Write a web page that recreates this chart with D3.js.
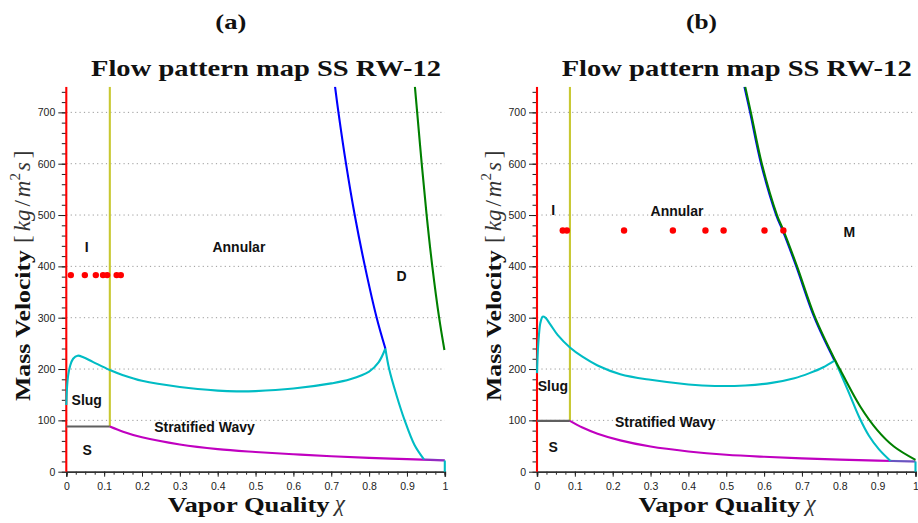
<!DOCTYPE html>
<html>
<head>
<meta charset="utf-8">
<script src="https://cdn.jsdelivr.net/npm/d3@7/dist/d3.min.js"></script>
<style>
  body { margin: 0; background: #fff; }
</style>
</head>
<body>
<svg id="chart" width="918" height="523"></svg>
<script>
// ---- axis ticks ----
const xTickValues = [0, 0.1, 0.2, 0.3, 0.4, 0.5, 0.6, 0.7, 0.8, 0.9, 1];
const xTickLabels = ["0", "0.1", "0.2", "0.3", "0.4", "0.5", "0.6", "0.7", "0.8", "0.9", "1"];
const yTickValues = [0, 100, 200, 300, 400, 500, 600, 700];
const yTickLabels = ["0", "100", "200", "300", "400", "500", "600", "700"];

const panelTags = ["(a)", "(b)"];
const chartTitle = "Flow pattern map SS RW-12";

// ---- map (a): transition curves [vapor quality, mass velocity] ----
const intermittentA = 0.115;          // I / A boundary (vertical)
const stratifiedA = 88;               // S / SW boundary level below x_IA
const wavyA = [[0, 130], [0.002, 165], [0.005, 188], [0.01, 206], [0.018, 220], [0.03, 226],
  [0.045, 223], [0.07, 214], [0.115, 198], [0.15, 188], [0.2, 177], [0.3, 165], [0.4, 158],
  [0.45, 156.5], [0.5, 157], [0.6, 162], [0.7, 172], [0.75, 180], [0.8, 195], [0.825, 213], [0.843, 240]];
const wavyDropA = [[0.843, 240], [0.853, 200], [0.872, 150], [0.894, 100], [0.92, 52], [0.945, 24]];
const dryoutA = [[0.710, 750], [0.719, 700], [0.739, 600], [0.762, 500], [0.789, 400], [0.820, 300], [0.843, 240]];
const mistA = [[0.921, 750], [0.927, 700], [0.939, 600], [0.952, 500], [0.967, 400], [0.985, 300], [0.999, 237]];
const stratCurveA = [[0.115, 88], [0.15, 78], [0.2, 67], [0.3, 53], [0.4, 44], [0.5, 38.5], [0.6, 34],
  [0.7, 30], [0.8, 27], [0.9, 24.5], [1, 22]];
const testQualityA = [0.012, 0.049, 0.078, 0.097, 0.108, 0.133, 0.144];
const testFluxA = 383;
const regionsA = [["I", 0.054, 438], ["Annular", 0.456, 438], ["D", 0.886, 381],
  ["Slug", 0.054, 140], ["Stratified Wavy", 0.365, 86.5], ["S", 0.055, 42]];

// ---- map (b) ----
const intermittentB = 0.087;
const stratifiedB = 99;
const wavyB = [[0, 192], [0.002, 232], [0.005, 265], [0.009, 290], [0.015, 302], [0.022, 300],
  [0.035, 287], [0.055, 266], [0.087, 242], [0.12, 224], [0.16, 207], [0.22, 190], [0.3, 179],
  [0.4, 170], [0.47, 167], [0.55, 168], [0.62, 173], [0.68, 182], [0.72, 192], [0.755, 203], [0.787, 217]];
const wavyDropB = [[0.787, 217], [0.80, 195], [0.825, 152], [0.852, 105], [0.877, 70], [0.903, 44], [0.934, 21]];
const dryoutB = [[0.548, 750], [0.563, 700], [0.592, 600], [0.632, 500], [0.649, 470], [0.685, 400], [0.733, 300], [0.785, 218]];
const mistB = [[0.55, 750], [0.565, 700], [0.594, 600], [0.634, 500], [0.651, 470], [0.687, 400],
  [0.735, 300], [0.787, 218], [0.80, 200], [0.854, 127], [0.899, 81], [0.943, 49], [1, 23]];
const stratCurveB = [[0.087, 99], [0.12, 86], [0.16, 74], [0.22, 61], [0.3, 49], [0.4, 39.5], [0.5, 33],
  [0.6, 29], [0.7, 26], [0.8, 23.5], [0.9, 21.5], [1, 20]];
const testQualityB = [0.068, 0.079, 0.230, 0.359, 0.445, 0.493, 0.601, 0.651];
const testFluxB = 470;
const regionsB = [["I", 0.043, 510], ["Annular", 0.370, 508], ["M", 0.825, 468],
  ["Slug", 0.042, 167], ["Stratified Wavy", 0.339, 96], ["S", 0.043, 49]];

const panels = [
  { tag: panelTags[0], left: 66.3, xIA: intermittentA, gStrat: stratifiedA, wavy: wavyA, drop: wavyDropA,
    dryout: dryoutA, mist: mistA, strat: stratCurveA, qx: testQualityA, qg: testFluxA, regions: regionsA, blend: false },
  { tag: panelTags[1], left: 537, xIA: intermittentB, gStrat: stratifiedB, wavy: wavyB, drop: wavyDropB,
    dryout: dryoutB, mist: mistB, strat: stratCurveB, qx: testQualityB, qg: testFluxB, regions: regionsB, blend: true }
];

const COLORS = { red: "#ff0000", yellow: "#c8c832", gray: "#5f5f5f", magenta: "#c000c0",
  cyan: "#00bcc4", blue: "#0000ff", green: "#008000" };

const SERIF = "'Liberation Serif', 'DejaVu Serif', serif";
const SANS = "'Liberation Sans', Arial, sans-serif";

const svg = d3.select("#chart");
const plotW = 378.5;
const y = d3.scaleLinear().domain([0, 750]).range([471.7, 86.7]);

panels.forEach((p, i) => {
  const x = d3.scaleLinear().domain([0, 1]).range([p.left, p.left + plotW]);
  const g = svg.append("g");
  const line = d3.line().x(d => x(d[0])).y(d => y(d[1])).curve(d3.curveCatmullRom.alpha(0.5));

  const clipId = "clip" + i;
  svg.append("clipPath").attr("id", clipId).append("rect")
    .attr("x", x(0) - 3).attr("y", y(750)).attr("width", plotW + 6).attr("height", y(0) - y(750) + 3);

  // horizontal dotted grid
  g.append("g").selectAll("line").data(yTickValues.filter(v => v > 0)).join("line")
    .attr("x1", x(0)).attr("x2", x(1)).attr("y1", d => y(d)).attr("y2", d => y(d))
    .attr("stroke", "#9a9a9a").attr("stroke-width", 1).attr("stroke-dasharray", "1.2,3.2");

  // y axis: minor ticks every 20, major every 100
  const yMinor = d3.axisLeft(y).tickValues(d3.range(0, 751, 20)).tickSize(4.5).tickFormat("");
  const yMajor = d3.axisLeft(y).tickValues(yTickValues).tickSize(8).tickPadding(3)
    .tickFormat((d, k) => yTickLabels[k]);
  const ya = g.append("g").attr("transform", `translate(${x(0)},0)`);
  ya.append("g").call(yMinor);
  ya.append("g").call(yMajor);
  ya.selectAll(".domain").remove();

  // x axis: minor ticks every 0.025
  const xMinor = d3.axisBottom(x).tickValues(d3.range(0, 1.0001, 0.025)).tickSize(3).tickFormat("");
  const xMajor = d3.axisBottom(x).tickValues(xTickValues).tickSize(5).tickPadding(6)
    .tickFormat((d, k) => xTickLabels[k]);
  const xa = g.append("g").attr("transform", `translate(0,${y(0)})`);
  xa.append("g").call(xMinor);
  xa.append("g").call(xMajor);
  xa.selectAll(".domain").attr("stroke", "#333").attr("stroke-width", 1.6);

  g.selectAll(".tick line").attr("stroke", "#222");
  g.selectAll(".tick text").attr("font-family", SANS).attr("font-size", 10.5).attr("fill", "#222");

  const marks = g.append("g").attr("clip-path", `url(#${clipId})`)
    .attr("fill", "none").attr("stroke-width", 2.1).attr("stroke-linejoin", "round");

  // intermittent wall (x = 0) and I/A boundary
  marks.append("line").attr("x1", x(0)).attr("x2", x(0)).attr("y1", y(0)).attr("y2", y(750))
    .attr("stroke", COLORS.red);
  marks.append("line").attr("x1", x(p.xIA)).attr("x2", x(p.xIA)).attr("y1", y(p.gStrat)).attr("y2", y(750))
    .attr("stroke", COLORS.yellow);
  // stratified level below x_IA
  marks.append("line").attr("x1", x(0)).attr("x2", x(p.xIA)).attr("y1", y(p.gStrat)).attr("y2", y(p.gStrat))
    .attr("stroke", COLORS.gray);
  // stratified / stratified-wavy boundary
  marks.append("path").datum(p.strat).attr("d", line).attr("stroke", COLORS.magenta);
  // wavy boundary and its high-quality branch
  marks.append("path").datum(p.wavy).attr("d", line).attr("stroke", COLORS.cyan);
  marks.append("path").datum(p.drop).attr("d", line).attr("stroke", COLORS.cyan);
  const end = p.strat[p.strat.length - 1];
  const dropEnd = p.drop[p.drop.length - 1];
  marks.append("path").datum([[dropEnd[0], dropEnd[1]], [1, end[1]]]).attr("d", line)
    .attr("stroke", COLORS.cyan).attr("stroke-opacity", p.blend ? 0.45 : 0.25);
  marks.append("line").attr("x1", x(1)).attr("x2", x(1)).attr("y1", y(end[1])).attr("y2", y(0))
    .attr("stroke", COLORS.cyan);
  // dryout and mist boundaries
  marks.append("path").datum(p.dryout).attr("d", line).attr("stroke", COLORS.blue);
  marks.append("path").datum(p.mist).attr("d", line).attr("stroke", COLORS.green);

  // experimental points
  g.append("g").selectAll("circle").data(p.qx).join("circle")
    .attr("cx", d => x(d)).attr("cy", y(p.qg)).attr("r", 3.2).attr("fill", COLORS.red);

  // region names
  g.append("g").selectAll("text").data(p.regions).join("text")
    .attr("x", d => x(d[1])).attr("y", d => y(d[2])).attr("dy", "0.36em")
    .attr("text-anchor", "middle")
    .attr("font-family", SANS).attr("font-weight", "bold")
    .attr("font-size", 14).attr("fill", "#111").text(d => d[0]);

  // panel tag
  svg.append("text").attr("x", p.left + 164.5).attr("y", 28.5).attr("text-anchor", "middle")
    .attr("font-family", SERIF).attr("font-weight", "bold")
    .attr("font-size", 22).attr("textLength", 31).attr("lengthAdjust", "spacingAndGlyphs")
    .attr("fill", "#111").text(p.tag);

  // title
  svg.append("text").attr("x", p.left + 24.7).attr("y", 76)
    .attr("font-family", SERIF).attr("font-weight", "bold")
    .attr("font-size", 22.5).attr("textLength", 350).attr("lengthAdjust", "spacingAndGlyphs")
    .attr("fill", "#111").text(chartTitle);

  // x label
  const xl = svg.append("g").attr("fill", "#111");
  xl.append("text").attr("x", p.left + 101.4).attr("y", 512)
    .attr("font-family", SERIF).attr("font-weight", "bold")
    .attr("font-size", 21).attr("textLength", 162).attr("lengthAdjust", "spacingAndGlyphs")
    .text("Vapor Quality");
  xl.append("text").attr("x", p.left + 268.5).attr("y", 511)
    .attr("font-family", SERIF).attr("font-style", "italic")
    .attr("font-size", 23).attr("fill", "#333").text("χ");

  // y label
  const yl = svg.append("g").attr("fill", "#111");
  yl.append("text").attr("transform", `translate(${p.left - 36},401) rotate(-90)`)
    .attr("font-family", SERIF).attr("font-weight", "bold")
    .attr("font-size", 22).attr("textLength", 151).attr("lengthAdjust", "spacingAndGlyphs")
    .text("Mass Velocity");
  const unit = yl.append("text").attr("transform", `translate(${p.left - 36},243) rotate(-90)`)
    .attr("font-family", SERIF)
    .attr("font-size", 23).attr("fill", "#333");
  unit.append("tspan").text("[");
  unit.append("tspan").attr("dx", 4).attr("font-style", "italic").text("kg");
  unit.append("tspan").attr("dx", 3).text("/");
  unit.append("tspan").attr("dx", 3).attr("font-style", "italic").text("m");
  unit.append("tspan").attr("font-size", 15).attr("dy", -10).text("2");
  unit.append("tspan").attr("dx", 2).attr("dy", 10).attr("font-style", "italic").text("s");
  unit.append("tspan").attr("dx", 4).text("]");
});
</script>
</body>
</html>
